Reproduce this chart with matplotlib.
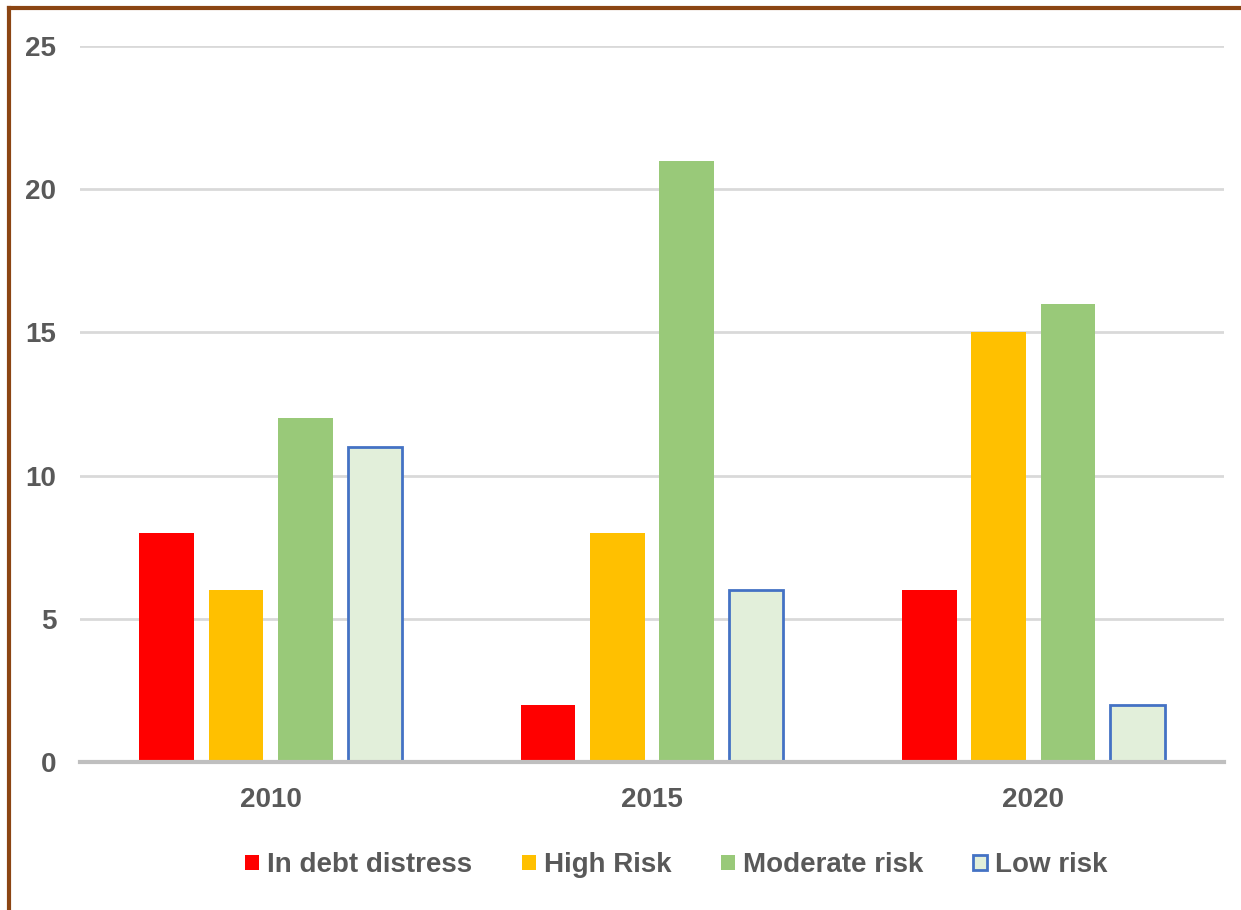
import numpy as np
import matplotlib.pyplot as plt
from matplotlib.lines import Line2D

years = ['2010', '2015', '2020']
series = ['In debt distress', 'High Risk', 'Moderate risk', 'Low risk']
in_distress = [8, 2, 6]
high_risk = [6, 8, 15]
moderate_risk = [12, 21, 16]
low_risk = [11, 6, 2]

colors = ['#FF0000', '#FFC000', '#99C979', '#E2EFDA']
edges = ['none', 'none', 'none', '#4472C4']

plt.rcParams['font.family'] = ['Liberation Sans', 'DejaVu Sans']
txt = '#595959'

fig = plt.figure(figsize=(12.41, 9.10), dpi=100)
ax = fig.add_axes([0.0645, 0.1626, 0.9218, 0.7869])

x = np.arange(len(years))
step = 0.182
width = 0.143
vals = [in_distress, high_risk, moderate_risk, low_risk]
for i, v in enumerate(vals):
    lw = 2 if edges[i] != 'none' else 0
    ax.bar(x + (i - 1.5) * step, v, width, color=colors[i],
           edgecolor=edges[i], linewidth=lw, label=series[i], zorder=3)

ax.set_xlim(-0.5, 2.5)
ax.set_ylim(0, 25)
ax.set_yticks(range(0, 26, 5))
ax.set_xticks(x)
ax.set_xticklabels(years)
ax.yaxis.grid(True, color='#d9d9d9', linewidth=2, zorder=0)
for s in ['top', 'right', 'left']:
    ax.spines[s].set_visible(False)
ax.spines['bottom'].set_color('#bfbfbf')
ax.spines['bottom'].set_linewidth(3)
ax.spines['bottom'].set_zorder(4)
ax.tick_params(length=0, labelsize=20, labelcolor=txt)
ax.tick_params(axis='x', pad=18)
ax.tick_params(axis='y', pad=17)
for lab in ax.get_xticklabels() + ax.get_yticklabels():
    lab.set_fontweight('bold')

leg = fig.legend(loc='center', bbox_to_anchor=(0.545, 0.049), ncol=4,
                 frameon=False, handlelength=0.5, handleheight=0.5,
                 handletextpad=0.28, columnspacing=1.8,
                 prop={'size': 20, 'weight': 'bold'})
for t in leg.get_texts():
    t.set_color(txt)

# brown frame along the top and left edges
fig.add_artist(Line2D([0.007, 1.0], [0.9915, 0.9915], color='#8B4513', lw=3,
                      transform=fig.transFigure))
fig.add_artist(Line2D([0.0075, 0.0075], [0.0, 0.9915], color='#8B4513', lw=3,
                      transform=fig.transFigure))

fig.savefig('out.png', dpi=100)
